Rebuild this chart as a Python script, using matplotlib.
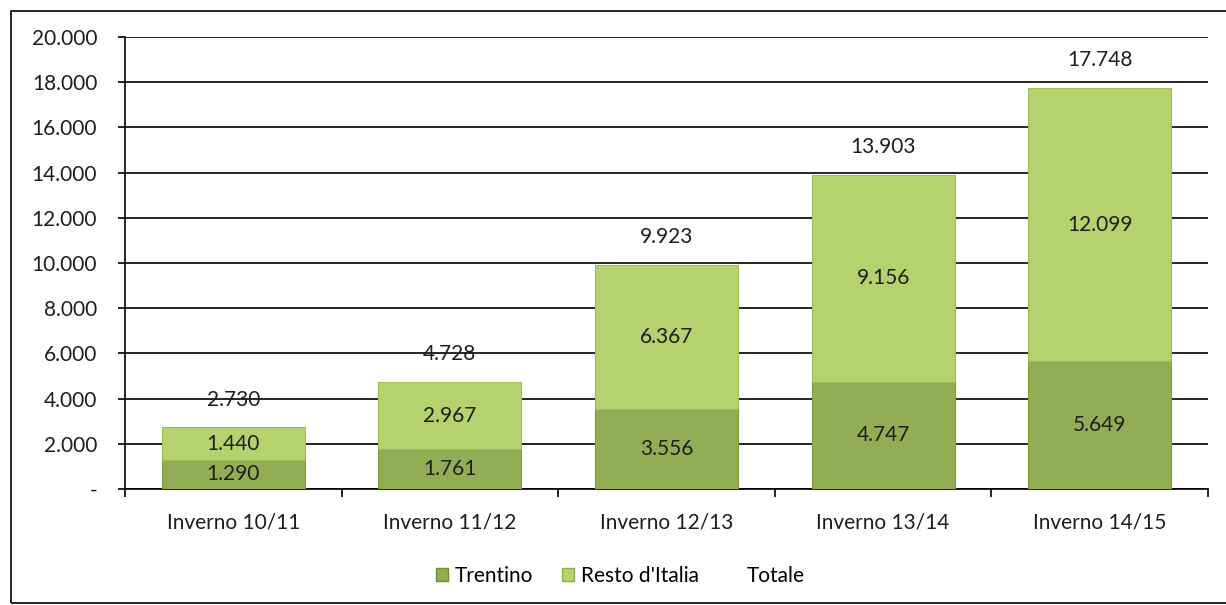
import numpy as np
import matplotlib.pyplot as plt
from matplotlib.patches import Rectangle, Patch
from matplotlib.lines import Line2D

plt.rcParams['font.family'] = ['Lato', 'DejaVu Sans']

stagioni = ['Inverno 10/11', 'Inverno 11/12', 'Inverno 12/13', 'Inverno 13/14', 'Inverno 14/15']
trentino = [1290, 1761, 3556, 4747, 5649]
resto_italia = [1440, 2967, 6367, 9156, 12099]
totale = [2730, 4728, 9923, 13903, 17748]


def fmt(v):
    return f'{v:,}'.replace(',', '.')


fig = plt.figure(figsize=(12.26, 6.05), dpi=100)
ax = fig.add_axes([125 / 1226, 1 - 489 / 605, (1208 - 125) / 1226, (489 - 37) / 605])

c_tr = '#91ae55'
c_re = '#b4d36e'
x = np.arange(len(stagioni))
w = 0.66
ax.bar(x, trentino, w, color=c_tr, edgecolor='#7e9c3e', linewidth=0.8, zorder=3, label='Trentino')
ax.bar(x, resto_italia, w, bottom=trentino, color=c_re, edgecolor='#9cbf4f', linewidth=0.8,
       zorder=3, label="Resto d'Italia")

fs = 15
tc = '#1e1e1e'
for i in range(len(x)):
    ax.text(x[i], trentino[i] / 2, fmt(trentino[i]), ha='center', va='center',
            fontsize=fs, color=tc, zorder=4)
    ax.text(x[i], trentino[i] + resto_italia[i] / 2, fmt(resto_italia[i]), ha='center',
            va='center', fontsize=fs, color=tc, zorder=4)
    ax.annotate(fmt(totale[i]), (x[i], totale[i]), xytext=(0, 20), textcoords='offset points',
                ha='center', va='center', fontsize=fs, color=tc, zorder=4)

ax.set_xlim(-0.5, len(x) - 0.5)
ax.set_ylim(0, 20000)
yt = np.arange(0, 20001, 2000)
ax.set_yticks(yt)
ax.set_yticklabels(['-'] + [fmt(v) for v in yt[1:]], fontsize=fs, color=tc)
ax.yaxis.grid(True, color='black', linewidth=1.2, zorder=0)
ax.set_axisbelow(True)
ax.tick_params(axis='y', length=5, width=1.2, pad=15)

ax.set_xticks(np.arange(-0.5, len(x)), minor=False)
ax.set_xticklabels([])
ax.set_xticks(x, minor=True)
ax.set_xticklabels(stagioni, minor=True, fontsize=fs, color=tc)
ax.tick_params(axis='x', which='major', length=6, width=1.2, direction='out')
ax.tick_params(axis='x', which='minor', length=0, pad=17)

for s in ['top', 'right']:
    ax.spines[s].set_visible(False)
ax.spines['left'].set_linewidth(1.2)
ax.spines['bottom'].set_linewidth(1.2)

handles = [Patch(facecolor=c_tr, edgecolor='#6f8f30'),
           Patch(facecolor=c_re, edgecolor='#8fb040'),
           Line2D([], [], linestyle='none')]
fig.legend(handles, ['Trentino', "Resto d'Italia", 'Totale'], loc='center',
           bbox_to_anchor=(620 / 1226, 1 - 576 / 605), ncol=3, frameon=False,
           fontsize=fs, handlelength=0.6, handleheight=0.6, handletextpad=0.3,
           columnspacing=1.4)

fig.patches.append(Rectangle((11 / 1226, 2 / 605), 1.2, 1 - 13 / 605, transform=fig.transFigure,
                             fill=False, edgecolor='black', linewidth=1.2))

fig.savefig('out.png', dpi=100)
